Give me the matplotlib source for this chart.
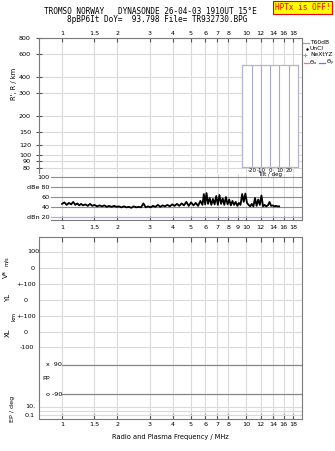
import matplotlib
matplotlib.use('Agg')
import matplotlib.pyplot as plt
from matplotlib.lines import Line2D

# ---------------- data ----------------
freq_ticks = [1, 1.5, 2, 3, 4, 5, 6, 7, 8, 10, 12, 14, 16, 18]
freq_tick_labels = ['1', '1.5', '2', '3', '4', '5', '6', '7', '8', '10', '12', '14', '16', '18']
amp_freq_ticks = [1, 1.5, 2, 3, 4, 5, 6, 7, 8, 9, 10, 12, 14, 16, 18]
amp_freq_tick_labels = ['1', '1.5', '2', '3', '4', '5', '6', '7', '8', '9', '10', '12', '14', '16', '18']
height_ticks = [80, 90, 100, 120, 150, 200, 300, 400, 600, 800]
height_tick_labels = ['80', '90', '100', '120', '150', '200', '300', '400', '600', '800']
amp_ticks = [20, 40, 60, 80, 100]
amp_tick_labels = ['dBn 20', '40', '60', 'dBe 80', '100']
tilt_ticks = [-20, -10, 0, 10, 20]
tilt_tick_labels = ['-20', '-10', '0', '10', '20']

freq_mhz = [1.00, 1.03, 1.06, 1.09, 1.12, 1.15, 1.18, 1.21, 1.24, 1.27,
            1.30, 1.34, 1.38, 1.42, 1.46, 1.50, 1.55, 1.60, 1.65, 1.70,
            1.75, 1.80, 1.86, 1.92, 1.98, 2.04, 2.10, 2.17, 2.24, 2.31,
            2.38, 2.45, 2.53, 2.61, 2.69, 2.77, 2.85, 2.94, 3.03, 3.12,
            3.22, 3.32, 3.42, 3.52, 3.63, 3.74, 3.85, 3.97, 4.09, 4.21,
            4.34, 4.47, 4.60, 4.74, 4.88, 5.03, 5.18, 5.33, 5.49, 5.65,
            5.80, 5.90, 6.00, 6.10, 6.22, 6.35, 6.48, 6.61, 6.75, 6.89,
            7.03, 7.17, 7.32, 7.47, 7.62, 7.78, 7.94, 8.10, 8.27, 8.44,
            8.61, 8.79, 8.97, 9.15, 9.34, 9.53, 9.72, 9.92, 10.12, 10.33,
            10.54, 10.75, 10.97, 11.19, 11.42, 11.65, 11.89, 12.13, 12.38, 12.63,
            12.89, 13.15, 13.42, 13.69, 13.97, 14.25, 14.54, 14.84, 15.14]
amp_db = [46, 49, 44, 48, 45, 50, 44, 47, 43, 46,
          43, 45, 42, 46, 42, 44, 41, 43, 41, 43,
          40, 42, 40, 42, 40, 41, 39, 41, 39, 40,
          38, 41, 39, 40, 39, 47, 39, 41, 39, 42,
          40, 44, 40, 43, 41, 44, 41, 45, 42, 46,
          42, 47, 43, 50, 42, 49, 43, 48, 42, 52,
          44, 66, 45, 68, 46, 58, 44, 56, 45, 62,
          44, 64, 46, 57, 44, 60, 45, 55, 43, 52,
          44, 50, 42, 48, 44, 66, 50, 67, 48, 44,
          41, 46, 41, 58, 42, 55, 44, 63, 41, 44,
          41, 43, 50, 42, 43, 41, 42, 41, 41]

# ---------------- layout helpers ----------------
W, H = 335, 451
fig = plt.figure(figsize=(W / 100, H / 100), dpi=100)
plt.rcParams['font.family'] = ['DejaVu Sans']


def fx(px):
    return px / W


def fy(py):
    return 1 - py / H


def rect(x0, y0, x1, y1):
    return [x0 / W, 1 - y1 / H, (x1 - x0) / W, (y1 - y0) / H]


def T(x, y, s, **kw):
    kw.setdefault('fontsize', 4.6)
    kw.setdefault('va', 'center')
    kw.setdefault('ha', 'center')
    fig.text(fx(x), fy(y), s, **kw)


GRID = '#dadada'
SPINE = '#7a7a7a'
TS = 4.6
F_MIN, F_MAX = 0.753, 20.08

# ---------------- top panel (range) ----------------
ax = fig.add_axes(rect(39.3, 38, 301.7, 173))
ax.set_xscale('log')
ax.set_yscale('log')
ax.set_xlim(F_MIN, F_MAX)
ax.set_ylim(73.2, 800)
ax.set_xticks(freq_ticks, freq_tick_labels)
ax.set_yticks(height_ticks, height_tick_labels)
ax.minorticks_off()
ax.xaxis.tick_top()
ax.tick_params(axis='x', direction='in', length=3, pad=1.5, labelsize=TS, color='#555555')
ax.tick_params(axis='y', direction='inout', length=4, pad=4, labelsize=TS, color='#555555')
ax.grid(True, color=GRID, lw=0.8)
for s in ['top', 'left', 'right']:
    ax.spines[s].set_color(SPINE)
    ax.spines[s].set_linewidth(0.8)
ax.spines['bottom'].set_visible(False)
T(14, 84, "R', R / km", rotation=90, fontsize=4.8)

# ---------------- amplitude panel ----------------
axa = fig.add_axes(rect(51, 174, 301.7, 220))
axa.patch.set_visible(False)
axa.set_xscale('log')
axa.set_xlim(0.871, F_MAX)
axa.set_ylim(13.3, 106.7)
axa.set_xticks(amp_freq_ticks, amp_freq_tick_labels)
axa.minorticks_off()
axa.set_yticks(amp_ticks, amp_tick_labels)
axa.tick_params(axis='x', direction='in', length=3, pad=3.5, labelsize=TS, color='#555555')
axa.tick_params(axis='y', length=0, pad=1, labelsize=TS)
axa.grid(True, axis='x', color=GRID, lw=0.8)
for v in amp_ticks[1:]:
    axa.axhline(v, color='#8c8c8c', lw=0.8)
axa.axhline(amp_ticks[0], color='#aab0ee', lw=0.9)
axa.plot(freq_mhz, amp_db, color='black', lw=1.3)
axa.spines['left'].set_visible(False)
axa.spines['top'].set_visible(False)
for s in ['right', 'bottom']:
    axa.spines[s].set_color(SPINE)
    axa.spines[s].set_linewidth(0.8)

# tilt inset (drawn above the amplitude panel)
axt = fig.add_axes(rect(242.3, 65, 298.3, 167))
axt.set_zorder(5)
axt.set_xlim(-30.5, 30.5)
axt.set_ylim(0, 1)
axt.set_xticks(tilt_ticks, tilt_tick_labels)
axt.set_yticks([])
axt.tick_params(axis='x', length=0, pad=0.8, labelsize=4.0)
for t in tilt_ticks:
    axt.axvline(t, color='#a8a8c8', lw=0.8)
for s in axt.spines.values():
    s.set_color('#b4b4cc')
    s.set_linewidth(0.9)
axt.set_xlabel('Tilt / deg', fontsize=4.0, labelpad=-0.5)

# ---------------- bottom panel ----------------
axb = fig.add_axes(rect(39.3, 236.7, 301.7, 419))
axb.set_xscale('log')
axb.set_xlim(F_MIN, F_MAX)
axb.set_ylim(419, 236.7)
axb.set_xticks(freq_ticks, freq_tick_labels)
axb.minorticks_off()
axb.set_yticks([])
axb.tick_params(axis='x', direction='in', length=3.5, pad=2, labelsize=TS,
                color='#555555', top=True)
axb.grid(True, axis='x', color=GRID, lw=0.8)
for r in [252, 268.3, 284, 300, 316, 332, 347.3, 406.7, 411.3, 415.3]:
    axb.axhline(r, color=GRID, lw=0.8)
for r in [365, 394]:
    axb.plot([1, F_MAX], [r, r], color='#858585', lw=0.9)
for s in axb.spines.values():
    s.set_color(SPINE)
    s.set_linewidth(0.8)
axb.set_xlabel('Radio and Plasma Frequency / MHz', fontsize=4.8, labelpad=5)

# left labels of bottom panel
T(33, 252, '100')
T(32.5, 268.3, '0')
T(26.5, 284, '+-100')
T(26, 300, '0')
T(26.5, 316, '+-100')
T(26, 332, '0')
T(27, 347.3, '-100')
T(54, 365, 'x  90')
T(46, 379, 'PP')
T(54, 394, 'o -90')
T(30, 406.7, '10.')
T(30, 415.3, '0.1')
T(6, 274, 'V*', rotation=90, fontsize=5)
T(6.5, 261, 'm/s', rotation=90, fontsize=3.8)
T(8, 298, 'YL', rotation=90, fontsize=5)
T(14, 316, 'km', rotation=90, fontsize=4.2)
T(8, 333, 'XL', rotation=90, fontsize=5)
T(12.5, 409, 'EP / deg', rotation=90, fontsize=4.6)

# ---------------- title & banner ----------------
T(150, 11.6, 'TROMSO NORWAY   DYNASONDE 26-04-03 1910UT 15\u00b0E',
  family='DejaVu Sans Mono', fontsize=5.6)
T(157, 20.0, '8pBP6It DoY=  93.798 File= TR932730.BPG',
  family='DejaVu Sans Mono', fontsize=5.6)
T(302.5, 7.3, 'HPTx is OFF!', family='DejaVu Sans Mono', fontsize=5.6, color='#ee0000',
  bbox=dict(boxstyle='square,pad=0.25', facecolor='#ffff00', edgecolor='#ee0000', lw=0.8))

# ---------------- legend ----------------
def L(x0, x1, y, **kw):
    fig.add_artist(Line2D([fx(x0), fx(x1)], [fy(y), fy(y)], transform=fig.transFigure, **kw))


LS = 4.3
L(303, 309, 42.5, color='#a0a0a0', lw=0.9)
T(310, 42.5, 'T60dB', ha='left', fontsize=LS)
fig.add_artist(Line2D([fx(306.5)], [fy(48.7)], transform=fig.transFigure, marker='.',
                      markersize=1.5, color='black', lw=0))
T(310, 48.7, 'UnCl', ha='left', fontsize=LS)
fig.add_artist(Line2D([fx(305)], [fy(55)], transform=fig.transFigure, marker='+',
                      markersize=3.5, color='#ff6699', mew=0.7, lw=0))
T(310, 55, 'NeXtYZ', ha='left', fontsize=LS)
L(304, 309, 62.5, color='#ff7070', lw=0.9)
T(309, 62.5, r'$\Theta_x$', ha='left', fontsize=4.0)
L(318.5, 325, 62.5, color='#7070ff', lw=0.9)
T(325.5, 62.5, r'$\Theta_y$', ha='left', fontsize=4.0)

fig.savefig('out.png', dpi=100)
